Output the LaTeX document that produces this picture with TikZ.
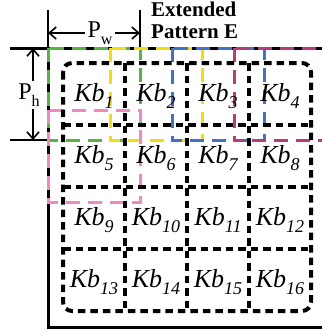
\documentclass[tikz,border=0pt]{standalone}
\usepackage{fontspec}
\setmainfont{Liberation Serif}
\usetikzlibrary{arrows.meta}
\definecolor{patGreen}{HTML}{58B244}
\definecolor{patYellow}{HTML}{F0DE10}
\definecolor{patBlue}{HTML}{4570C8}
\definecolor{patMagenta}{HTML}{B83C7A}
\definecolor{patPink}{HTML}{F088C2}
\newcommand{\kbsub}[1]{\textit{Kb}\raisebox{-0.26em}{\fontsize{18}{18}\selectfont\itshape #1}}
\newcommand{\dimsub}[2]{#1\raisebox{-0.3em}{\fontsize{16}{16}\selectfont #2}}

\begin{document}
\begin{tikzpicture}[x=1pt, y=-1pt,
    frame/.style={line width=3pt},
    dimline/.style={line width=1.6pt},
    dimarr/.style={line width=1.6pt, -{Straight Barb[length=7pt, width=12pt]}},
    extpat/.style={line width=3pt, dash pattern=on 14pt off 8pt},
    kgrid/.style={line width=4pt, dash pattern=on 7.5pt off 5pt},
    kblabel/.style={font=\fontsize{26}{28}\selectfont}]
  \path[use as bounding box, clip] (0,0) rectangle (322,333);

  % outer frame and extension lines
  \draw[frame] (10,48) -- (322,48);
  \draw[frame] (48,48) -- (48,327) -- (322,327);
  \draw[dimline] (48,10) -- (48,48);
  \draw[dimline] (140,10) -- (140,48);
  \draw[dimline] (10,140) -- (48,140);

  % P_w and P_h
  \node[font=\fontsize{24}{26}\selectfont, inner sep=2pt] (pwlbl) at (100,33) {\dimsub{P}{w}};
  \node[font=\fontsize{24}{26}\selectfont, inner sep=2pt] (phlbl) at (29,95) {\dimsub{P}{h}};
  \coordinate (pwL) at (48,33);
  \coordinate (pwR) at (140,33);
  \coordinate (phT) at (33,48);
  \coordinate (phB) at (33,140);
  \draw[dimarr] (pwlbl) -- (pwL);
  \draw[dimarr] (pwlbl) -- (pwR);
  \draw[dimarr] (phT |- phlbl.north) -- (phT);
  \draw[dimarr] (phT |- phlbl.south) -- (phB);

  \node[font=\bfseries\fontsize{21}{22}\selectfont, align=left, anchor=north west, inner sep=0pt]
    (extlbl) at (151,2) {Extended\\Pattern E};

  % extended patterns
  \draw[extpat, patGreen] (48,48) rectangle (140,140);
  \draw[extpat, patYellow] (110,48) rectangle (202,140);
  \draw[extpat, patBlue] (172,48) rectangle (264,140);
  \draw[extpat, patMagenta] (234,48) rectangle (326,140);
  \draw[extpat, patPink] (48,110) rectangle (140,202);

  % kernel blocks
  \draw[kgrid, rounded corners=9pt] (63,63) rectangle (311,311);
  \foreach \g in {125,187,249} {
    \draw[kgrid] (\g,63) -- (\g,311);
    \draw[kgrid] (63,\g) -- (311,\g);
  }
  \foreach \r in {0,...,3}
    \foreach \c in {1,...,4} {
      \pgfmathtruncatemacro{\k}{4*\r+\c}
      \node[kblabel] (kb\k) at ({32+62*\c},{96+62*\r}) {\kbsub{\k}};
    }
\end{tikzpicture}
\end{document}
